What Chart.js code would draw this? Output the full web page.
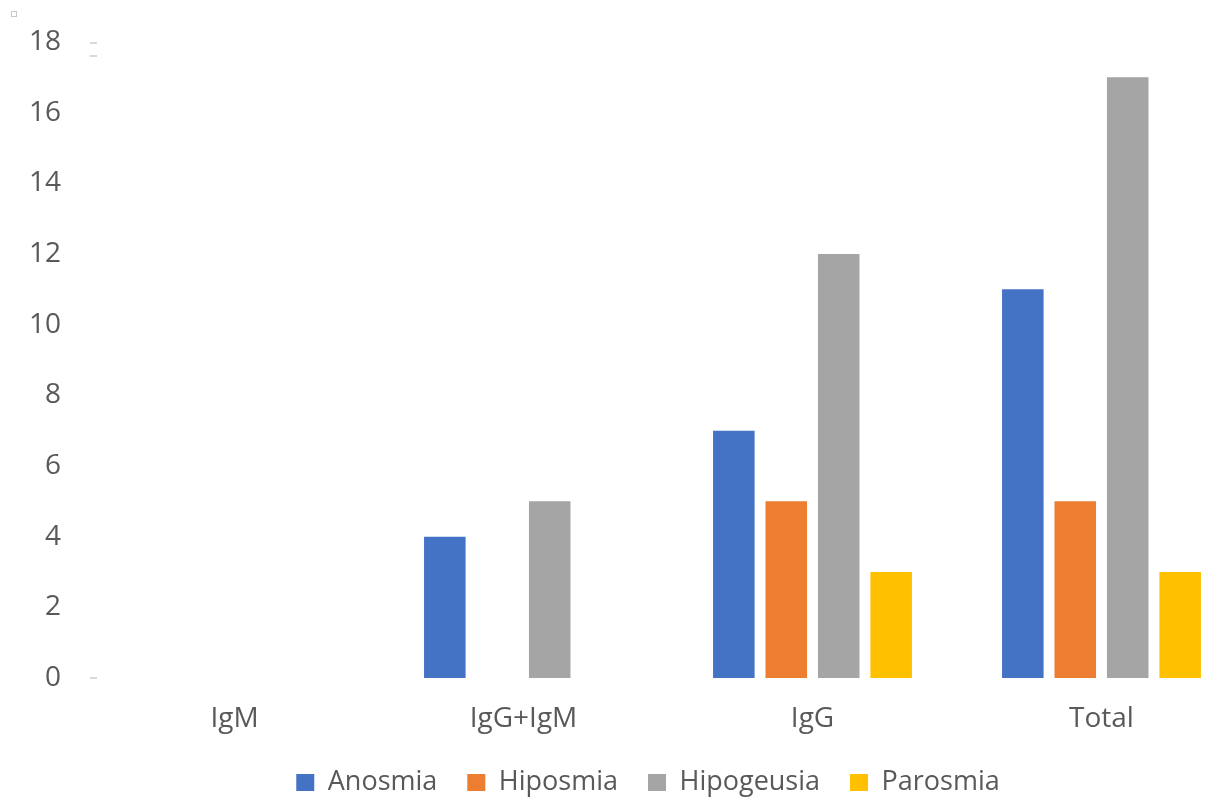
<!DOCTYPE html>
<html>
<head>
<meta charset="utf-8">
<script src="https://cdn.jsdelivr.net/npm/chart.js@4/dist/chart.umd.min.js"></script>
<style>
  html, body { margin: 0; padding: 0; background: #ffffff; }
  #wrap { width: 1206px; height: 797px; overflow: hidden; position: relative; }
  canvas { display: block; }
</style>
</head>
<body>
<div id="wrap"><canvas id="chart" width="1246" height="806"></canvas></div>
<script>
const categories = ['IgM', 'IgG+IgM', 'IgG', 'Total'];
const anosmia    = [0, 4, 7, 11];
const hiposmia   = [0, 0, 5, 5];
const hipogeusia = [0, 5, 12, 17];
const parosmia   = [0, 0, 3, 3];
const yTicks     = [0, 2, 4, 6, 8, 10, 12, 14, 16, 18];

const textColor = '#595959';
const fontFamily = '"Open Sans", "DejaVu Sans", sans-serif';

// nudge the legend row to the right of the canvas centre
const legendShift = {
  id: 'legendShift',
  afterLayout(chart) {
    const lg = chart.legend;
    if (lg) { lg.left += 25; lg.right += 25; }
  }
};

// small frame marks drawn around the plot corner
const frameMarks = {
  id: 'frameMarks',
  afterDraw(chart) {
    const ctx = chart.ctx;
    ctx.save();
    ctx.strokeStyle = '#c8c8c8';
    ctx.lineWidth = 1;
    ctx.strokeRect(11.5, 11.5, 5, 5);
    ctx.strokeStyle = '#d9d9d9';
    ctx.lineWidth = 2;
    const x0 = chart.chartArea.left;
    ctx.beginPath();
    ctx.moveTo(x0, 43); ctx.lineTo(x0 + 7, 43);
    ctx.moveTo(x0, 56); ctx.lineTo(x0 + 7, 56);
    const yb = chart.scales.y.getPixelForValue(0);
    ctx.moveTo(x0, yb); ctx.lineTo(x0 + 7, yb);
    ctx.stroke();
    ctx.restore();
  }
};

const ds = (label, data, color) => ({
  label, data,
  backgroundColor: color,
  borderWidth: 0,
  categoryPercentage: 0.726,
  barPercentage: 0.792
});

new Chart(document.getElementById('chart'), {
  type: 'bar',
  data: {
    labels: categories,
    datasets: [
      ds('Anosmia', anosmia, '#4472C4'),
      ds('Hiposmia', hiposmia, '#ED7D31'),
      ds('Hipogeusia', hipogeusia, '#A5A5A5'),
      ds('Parosmia', parosmia, '#FFC000')
    ]
  },
  options: {
    responsive: false,
    animation: false,
    layout: { padding: { top: 42, right: 0, bottom: 0, left: 0 } },
    plugins: {
      legend: {
        position: 'bottom',
        labels: {
          color: textColor,
          font: { family: fontFamily, size: 27 },
          boxWidth: 18,
          boxHeight: 17,
          padding: 30
        }
      },
      tooltip: { enabled: false }
    },
    scales: {
      x: {
        grid: { display: false },
        border: { display: false },
        ticks: {
          color: textColor,
          font: { family: fontFamily, size: 28 },
          padding: 16
        },
        afterFit(scale) { scale.height = 61; }
      },
      y: {
        min: 0,
        max: 18,
        grid: { display: false },
        border: { display: false },
        afterBuildTicks(scale) { scale.ticks = yTicks.map(v => ({ value: v })); },
        ticks: {
          color: textColor,
          font: { family: fontFamily, size: 28 },
          padding: 21
        },
        afterFit(scale) {
          scale.width = 90;
          scale.paddingTop = 0;
          scale.paddingBottom = 0;
        }
      }
    }
  },
  plugins: [legendShift, frameMarks]
});
</script>
</body>
</html>
